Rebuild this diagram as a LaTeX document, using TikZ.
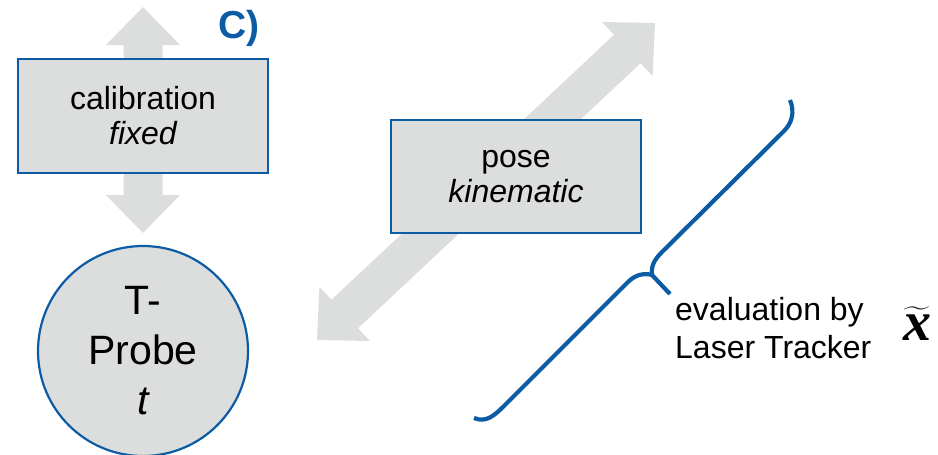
\documentclass[tikz,border=0pt]{standalone}
\usepackage{amsmath}
\usepackage{fontspec}
\setmainfont{Liberation Sans}
\newfontfamily\xserif{Liberation Serif}
\definecolor{kitblue}{HTML}{0B5BA5}
\definecolor{lightgr}{HTML}{DCDDDD}
\tikzset{
  blockarrow/.style={fill=lightgr, draw=none},
  infobox/.style={draw=kitblue, line width=1.8pt, fill=lightgr, minimum width=250pt, minimum height=114pt, inner sep=0pt, align=center, font=\fontsize{32}{35}\selectfont},
  probe/.style={circle, draw=kitblue, line width=2.2pt, fill=lightgr, minimum size=210pt, inner sep=0pt, align=center, font=\fontsize{41}{50}\selectfont},
  bracepath/.style={draw=kitblue, line width=4.2pt, line join=round}
}
\begin{document}
\begin{tikzpicture}[x=1pt,y=-1pt]
\useasboundingbox (0,0) rectangle (938,455);
% vertical double block arrow
\coordinate (vtop) at (143,7);
\coordinate (vbot) at (143,233);
\fill[blockarrow] (vtop) -- (180,45) -- (162.5,45) -- (162.5,195) -- (180,195) -- (vbot)
  -- (106,195) -- (123.5,195) -- (123.5,45) -- (106,45) -- cycle;
% diagonal double block arrow
\coordinate (dtop) at (655,23);
\coordinate (dbot) at (317,340);
\fill[blockarrow] (dbot) -- (370.0,341.0) -- (358.1,328.2) -- (640.6,63.2) -- (652.6,76.0) -- (dtop)
  -- (602.0,22.0) -- (614.0,34.8) -- (331.4,299.8) -- (319.4,287.0) -- cycle;
% boxes
\node[infobox] (calib) at (143,116) {calibration\\\itshape fixed};
\node[infobox, minimum height=113pt] (pose) at (516,176.5) {pose\\\itshape kinematic};
\node[probe] (tprobe) at (143,351) {T-\\Probe\\\itshape t};
% label C)
\node[text=kitblue, font=\fontsize{39}{39}\selectfont\bfseries, inner sep=0pt] (lab) at (239,28) {C)};
% brace
\coordinate (btop) at (790,100);
\coordinate (btip) at (652,275);
\coordinate (bbot) at (474,418);
\coordinate (btick) at (670,294);
\draw[bracepath] (btop) .. controls (795,112) and (792,123) .. (784,131) -- (662,252)
  .. controls (654,260) and (651,266) .. (btip);
\draw[bracepath] (btip) .. controls (645,273) and (636,274) .. (628,282) -- (505,405)
  .. controls (494,416) and (486,423) .. (bbot);
\draw[bracepath] (btip) -- (btick);
% evaluation text
\node[anchor=west, inner sep=0pt, align=left, font=\fontsize{32}{38}\selectfont] (evaltext) at (675,328) {evaluation by\\Laser Tracker};
% x tilde
\node[inner sep=0pt, font=\fontsize{56}{56}\selectfont] (xt) at (917,324) {$\widetilde{\mbox{\xserif\bfseries\itshape x}}$};
\end{tikzpicture}
\end{document}
